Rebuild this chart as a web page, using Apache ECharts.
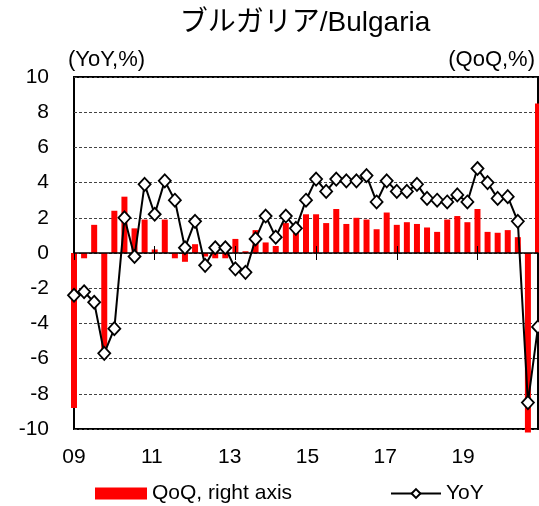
<!DOCTYPE html>
<html>
<head>
<meta charset="utf-8">
<script src="https://cdn.jsdelivr.net/npm/echarts@6/dist/echarts.min.js"></script>
<style>
html, body { margin: 0; padding: 0; background: #fff; }
#chart { width: 539px; height: 506px; }
</style>
</head>
<body>
<div id="chart"></div>
<script>
// 四半期（2009Q1〜2020Q3）
var quarters = [
    '09Q1','09Q2','09Q3','09Q4','10Q1','10Q2','10Q3','10Q4',
    '11Q1','11Q2','11Q3','11Q4','12Q1','12Q2','12Q3','12Q4',
    '13Q1','13Q2','13Q3','13Q4','14Q1','14Q2','14Q3','14Q4',
    '15Q1','15Q2','15Q3','15Q4','16Q1','16Q2','16Q3','16Q4',
    '17Q1','17Q2','17Q3','17Q4','18Q1','18Q2','18Q3','18Q4',
    '19Q1','19Q2','19Q3','19Q4','20Q1','20Q2','20Q3'
];
// 前期比（右軸）
var qoq = [
    -8.8, -0.3, 1.6, -5.5, 2.4, 3.2, 1.4, 1.9,
    0.2, 1.9, -0.3, -0.5, 0.5, -0.2, -0.3, -0.3,
    0.8, 0.1, 1.3, 0.6, 0.4, 1.7, 1.2, 2.2,
    2.2, 1.7, 2.5, 1.65, 2.0, 1.9, 1.35, 2.3,
    1.6, 1.75, 1.65, 1.45, 1.2, 1.9, 2.1, 1.75,
    2.5, 1.2, 1.15, 1.3, 0.9, -10.2, 8.5
];
// 前年比
var yoy = [
    -2.4, -2.2, -2.8, -5.7, -4.3, 2.0, -0.2, 3.9,
    2.2, 4.1, 3.0, 0.3, 1.8, -0.7, 0.3, 0.3,
    -0.9, -1.1, 0.8, 2.1, 0.9, 2.1, 1.4, 3.0,
    4.2, 3.5, 4.2, 4.1, 4.1, 4.4, 2.9, 4.1,
    3.5, 3.5, 3.9, 3.1, 3.0, 2.9, 3.3, 2.9,
    4.8, 4.0, 3.1, 3.2, 1.8, -8.5, -4.2
];
// 軸ラベル
var yearLabels = ['09', '11', '13', '15', '17', '19'];
var yMin = -10, yMax = 10, yStep = 2;

var FONT = "'Liberation Sans', Arial, 'Noto Sans CJK JP', sans-serif";

var chart = echarts.init(document.getElementById('chart'));
chart.setOption({
    animation: false,
    backgroundColor: '#fff',
    graphic: [
        { type: 'text', x: 305, y: 23, style: { text: 'ブルガリア/Bulgaria', font: '28px ' + FONT, fill: '#000', textAlign: 'center', textVerticalAlign: 'middle' } },
        { type: 'text', left: 68, top: 49, style: { text: '(YoY,%)', font: '22px ' + FONT, fill: '#000' } },
        { type: 'text', right: 4, top: 49, style: { text: '(QoQ,%)', font: '22px ' + FONT, fill: '#000' } }
    ],
    legend: [{
        data: ['QoQ, right axis'],
        left: 95, top: 483,
        padding: 0,
        icon: 'rect',
        itemWidth: 52, itemHeight: 12,
        textStyle: { fontFamily: FONT, fontSize: 21, color: '#000' }
    }, {
        data: ['YoY'],
        left: 390, top: 483,
        padding: 0,
        itemWidth: 50, itemHeight: 11,
        textStyle: { fontFamily: FONT, fontSize: 21, color: '#000' }
    }],
    grid: {
        left: 74, right: 1, top: 77, bottom: 77,
        containLabel: false,
        outerBoundsMode: 'none',
        show: true,
        borderColor: '#000',
        borderWidth: 2,
        backgroundColor: 'transparent'
    },
    xAxis: [{
        // 0ライン（内側目盛）
        type: 'category',
        data: quarters,
        boundaryGap: false,
        position: 'bottom',
        axisLine: { show: true, onZero: true, onZeroAxisIndex: 0, lineStyle: { color: '#000', width: 1.5 } },
        axisTick: { show: true, inside: true, length: 7, interval: 7, lineStyle: { color: '#000', width: 1 } },
        axisLabel: { show: false },
        splitLine: { show: false },
        z: 4
    }, {
        // 0ライン（外側目盛）
        type: 'category',
        data: quarters,
        boundaryGap: false,
        position: 'bottom',
        axisLine: { show: false, onZero: true, onZeroAxisIndex: 0 },
        axisTick: { show: true, inside: false, length: 7, interval: 7, lineStyle: { color: '#000', width: 1 } },
        axisLabel: { show: false },
        splitLine: { show: false },
        z: 4
    }, {
        // 年ラベル
        type: 'value',
        position: 'bottom',
        min: 0, max: 47.7, interval: 8,
        axisLine: { show: false, onZero: false },
        axisTick: { show: false },
        splitLine: { show: false },
        axisLabel: {
            show: true,
            margin: 18,
            showMaxLabel: false,
            fontFamily: FONT, fontSize: 21, color: '#000',
            formatter: function (v) {
                var k = v / 8;
                return (k === Math.round(k) && k < yearLabels.length) ? yearLabels[k] : '';
            }
        }
    }],
    yAxis: [{
        type: 'value',
        min: yMin, max: yMax, interval: yStep,
        axisLine: { show: false },
        axisTick: { show: false },
        axisLabel: { margin: 25, fontFamily: FONT, fontSize: 21, color: '#000' },
        splitLine: { show: true, lineStyle: { color: '#444', width: 1, type: [3, 2] } }
    }, {
        type: 'value',
        min: yMin, max: yMax, interval: yStep,
        position: 'right',
        axisLine: { show: false },
        axisTick: { show: false },
        axisLabel: { show: false },
        splitLine: { show: false }
    }],
    series: [{
        name: 'QoQ, right axis',
        type: 'bar',
        xAxisIndex: 0,
        yAxisIndex: 1,
        barWidth: 6,
        clip: false,
        itemStyle: { color: '#ff0000' },
        data: qoq,
        z: 2
    }, {
        name: 'YoY',
        type: 'line',
        xAxisIndex: 0,
        yAxisIndex: 0,
        symbol: 'diamond',
        symbolSize: [12, 13],
        showAllSymbol: true,
        clip: false,
        lineStyle: { color: '#000', width: 2 },
        itemStyle: { color: '#fff', borderColor: '#000', borderWidth: 1.8 },
        data: yoy,
        z: 5
    }]
});
</script>
</body>
</html>
